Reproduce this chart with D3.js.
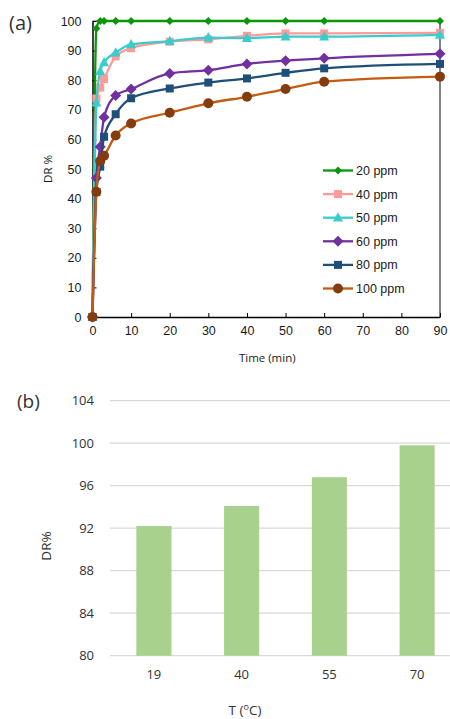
<!DOCTYPE html>
<html>
<head>
<meta charset="utf-8">
<script src="https://cdn.jsdelivr.net/npm/d3@7"></script>
<style>
  body { margin: 0; background: #fff; }
  svg { display: block; font-family: "Open Sans", "Noto Sans", sans-serif; }
</style>
</head>
<body>
<div id="chart"></div>
<script>
// ---- data (a): DR % vs time for several concentrations
const times = [0, 1, 2, 3, 6, 10, 20, 30, 40, 50, 60, 90];
const ppm20  = [0, 97.5, 100, 100, 100, 100, 100, 100, 100, 100, 100, 100];
const ppm40  = [0, 73.8, 77.5, 80.4, 88, 90.8, 93, 93.8, 95, 95.8, 95.8, 96];
const ppm50  = [0, 72.4, 83, 86, 89.3, 92.1, 93.2, 94.4, 94.2, 94.7, 94.7, 95.3];
const ppm60  = [0, 47, 57.5, 67.5, 74.8, 77, 82.3, 83.4, 85.5, 86.6, 87.4, 88.9];
const ppm80  = [0, 42.2, 50.8, 60.9, 68.5, 73.9, 77.2, 79.2, 80.6, 82.5, 84, 85.5];
const ppm100 = [0, 42.3, 52.7, 54.5, 61.3, 65.4, 69, 72.2, 74.4, 77, 79.5, 81.2];
const seriesNames = ["20 ppm", "40 ppm", "50 ppm", "60 ppm", "80 ppm", "100 ppm"];
const xTicksA = [0, 10, 20, 30, 40, 50, 60, 70, 80, 90];
const yTicksA = [0, 10, 20, 30, 40, 50, 60, 70, 80, 90, 100];

// ---- data (b): DR % vs temperature
const temps = ["19", "40", "55", "70"];
const drTemp = [92.2, 94.1, 96.8, 99.8];
const yTicksB = [80, 84, 88, 92, 96, 100, 104];

const styles = [
    { line: "#0a960a", fill: "#0a960a", shape: "diamond", size: 8 },
    { line: "#ff9a9a", fill: "#ff9a9a", shape: "square", size: 8 },
    { line: "#38cccc", fill: "#38cccc", shape: "triangle", size: 10 },
    { line: "#7030a0", fill: "#7030a0", shape: "diamond", size: 11 },
    { line: "#1f4e79", fill: "#1f4e79", shape: "square", size: 8 },
    { line: "#c55a11", fill: "#843c0c", shape: "circle", size: 10 }
];
const allSeries = [ppm20, ppm40, ppm50, ppm60, ppm80, ppm100];

const W = 450, H = 719;
const textColor = "#1a1a1a";
const arial = "'Liberation Sans', Arial, sans-serif";

let svg = d3.select("#chart").append("svg")
    .attr("width", W)
    .attr("height", H);

function marker(sel, st) {
    const s = st.size;
    if (st.shape === "circle") {
        sel.append("circle").attr("r", s / 2);
    } else if (st.shape === "square") {
        sel.append("rect").attr("x", -s / 2).attr("y", -s / 2).attr("width", s).attr("height", s);
    } else if (st.shape === "diamond") {
        sel.append("path").attr("d", `M0,${-s / 2}L${s / 2},0L0,${s / 2}L${-s / 2},0Z`);
    } else {
        sel.append("path").attr("d", `M0,${-s * 0.55}L${s / 2},${s * 0.38}L${-s / 2},${s * 0.38}Z`);
    }
    sel.selectAll("*").attr("fill", st.fill);
}

// ================= chart (a) =================
const a = { left: 92.5, right: 440, top: 21, bottom: 317 };
const xA = d3.scaleLinear().domain([0, 90]).range([a.left, a.right]);
const yA = d3.scaleLinear().domain([0, 100]).range([a.bottom, a.top]);

let ga = svg.append("g");

// frame
ga.append("line").attr("x1", a.right).attr("x2", a.right).attr("y1", a.top).attr("y2", a.bottom)
    .attr("stroke", "#595959").attr("stroke-width", 1.5);
ga.append("line").attr("x1", a.left).attr("x2", a.right).attr("y1", a.top).attr("y2", a.top)
    .attr("stroke", "#595959").attr("stroke-width", 1);

let yAxisA = ga.append("g")
    .attr("transform", `translate(${a.left},0)`)
    .call(d3.axisLeft(yA).tickValues(yTicksA).tickSizeInner(-4).tickSizeOuter(0).tickPadding(11));
let xAxisA = ga.append("g")
    .attr("transform", `translate(0,${a.bottom})`)
    .call(d3.axisBottom(xA).tickValues(xTicksA).tickSizeInner(-4).tickSizeOuter(0).tickPadding(9));
[yAxisA, xAxisA].forEach(ax => {
    ax.select(".domain").attr("stroke", "#000").attr("stroke-width", 1.5);
    ax.selectAll(".tick line").attr("stroke", "#000");
    ax.selectAll("text").attr("font-size", 12.5).attr("fill", textColor)
        .attr("font-family", arial);
});

const lineGen = d3.line()
    .x((d, i) => xA(times[i]))
    .y(d => yA(d))
    .curve(d3.curveMonotoneX);

allSeries.forEach((vals, k) => {
    const st = styles[k];
    let g = ga.append("g");
    g.append("path")
        .datum(vals)
        .attr("d", lineGen)
        .attr("fill", "none")
        .attr("stroke", st.line)
        .attr("stroke-width", 2.3);
    g.selectAll("g.pt")
        .data(vals)
        .enter()
        .append("g")
        .attr("class", "pt")
        .attr("transform", (d, i) => `translate(${xA(times[i])},${yA(d)})`)
        .each(function() { marker(d3.select(this), st); });
});

// legend
const legY = d3.scalePoint().domain(seriesNames).range([170.5, 288.5]);
seriesNames.forEach((name, k) => {
    const st = styles[k];
    let g = ga.append("g").attr("transform", `translate(0,${legY(name)})`);
    g.append("line").attr("x1", 323).attr("x2", 353).attr("stroke", st.line).attr("stroke-width", 2.3);
    let m = g.append("g").attr("transform", "translate(338,0)");
    marker(m, st);
    g.append("text").attr("x", 356).attr("dy", "0.36em").attr("font-size", 12.5)
        .attr("font-family", arial).attr("fill", textColor).text(name);
});

ga.append("text").attr("x", (a.left + a.right) / 2 + 1).attr("y", 362)
    .attr("text-anchor", "middle").attr("font-size", 11.5).attr("fill", textColor)
    .text("Time (min)");
ga.append("text").attr("transform", `translate(52,${(a.top + a.bottom) / 2}) rotate(-90)`)
    .attr("text-anchor", "middle").attr("font-size", 11.5).attr("fill", textColor)
    .text("DR %");
ga.append("text").attr("x", 9).attr("y", 30).attr("font-size", 20).attr("fill", "#333")
    .text("(a)");

// ================= chart (b) =================
const b = { left: 110, right: 461, top: 400.7, bottom: 655.7 };
const xB = d3.scaleBand().domain(temps).range([b.left, b.right]).paddingInner(0.6).paddingOuter(0.3);
const yB = d3.scaleLinear().domain([80, 104]).range([b.bottom, b.top]);

let gb = svg.append("g");

gb.append("g")
    .selectAll("line")
    .data(yTicksB)
    .enter()
    .append("line")
    .attr("x1", b.left).attr("x2", W)
    .attr("y1", d => yB(d)).attr("y2", d => yB(d))
    .attr("stroke", "#d9d9d9").attr("stroke-width", 1.3);

let yAxisB = gb.append("g")
    .attr("transform", `translate(${b.left},0)`)
    .call(d3.axisLeft(yB).tickValues(yTicksB).tickSize(0).tickPadding(16));
yAxisB.select(".domain").remove();

gb.selectAll("rect.bar")
    .data(drTemp)
    .enter()
    .append("rect")
    .attr("class", "bar")
    .attr("x", (d, i) => xB(temps[i]))
    .attr("width", xB.bandwidth())
    .attr("y", d => yB(d))
    .attr("height", d => yB(80) - yB(d))
    .attr("fill", "#a9d18e");

let xAxisB = gb.append("g")
    .attr("transform", `translate(0,${b.bottom})`)
    .call(d3.axisBottom(xB).tickSize(0).tickPadding(14));
xAxisB.select(".domain").remove();

[yAxisB, xAxisB].forEach(ax => {
    ax.selectAll("text").attr("font-size", 13).attr("fill", "#333")
        .attr("font-family", "'Open Sans', sans-serif");
});

gb.append("text").attr("x", 245).attr("y", 715)
    .attr("text-anchor", "middle").attr("font-size", 13.5).attr("fill", "#333")
    .html("T (<tspan font-size='9' dy='-5'>o</tspan><tspan dy='5'>C)</tspan>");
gb.append("text").attr("transform", `translate(51,${546}) rotate(-90)`)
    .attr("text-anchor", "middle").attr("font-size", 13.5).attr("fill", "#333")
    .text("DR%");
gb.append("text").attr("x", 17).attr("y", 408).attr("font-size", 19).attr("fill", "#333")
    .text("(b)");
</script>
</body>
</html>
